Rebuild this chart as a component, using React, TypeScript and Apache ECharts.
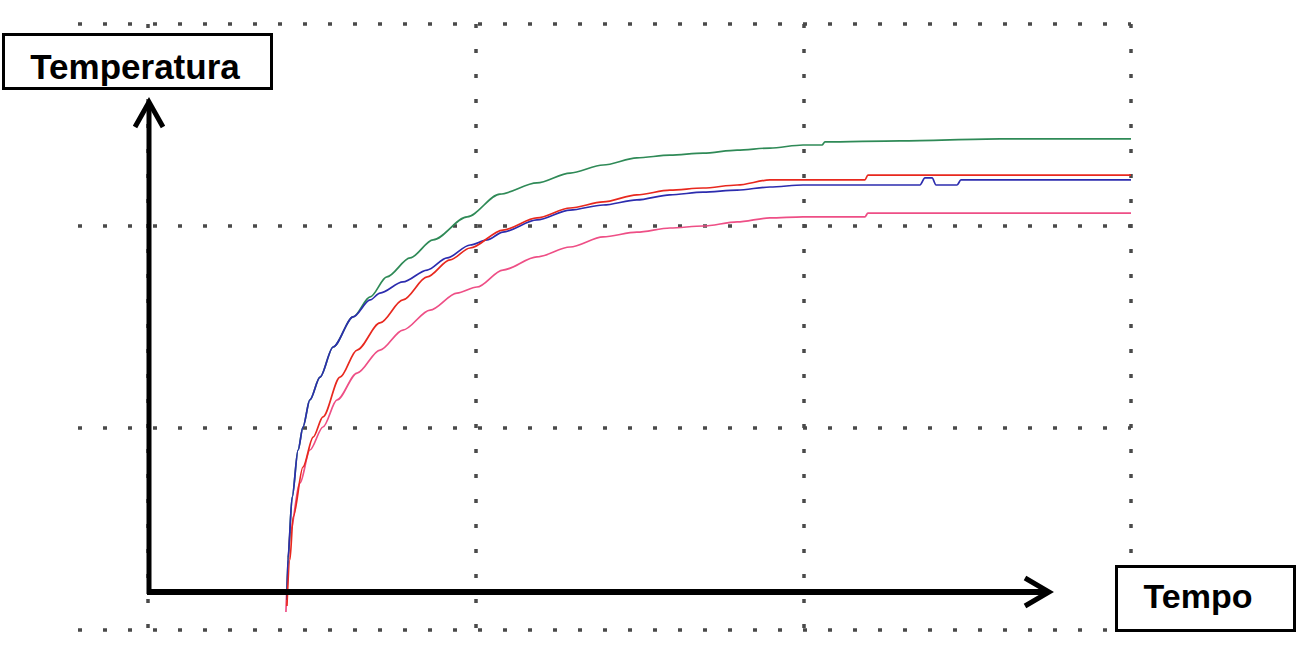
import React, { useEffect, useRef } from "react";
import * as echarts from "echarts";

// Axis ranges (arbitrary units: 3 columns x 3 rows)
const timeTicks = [0, 10, 20, 30];
const tempTicks = [0, 10, 20, 30];

const greenTime = [4.24, 4.27, 4.4, 4.58, 4.73, 4.94, 5.25, 5.65, 6.26, 6.78, 7.29, 8.0, 8.7, 9.74, 10.74, 11.87, 12.88, 13.89, 14.92, 15.93, 16.94, 17.98, 18.98, 19.99, 20.57, 20.66, 22.95, 26.0, 30.0];
const greenTemp = [1.49, 3.47, 6.58, 8.91, 10.05, 11.39, 12.52, 14.01, 15.5, 16.49, 17.48, 18.42, 19.31, 20.45, 21.58, 22.13, 22.62, 23.02, 23.37, 23.51, 23.61, 23.76, 23.86, 24.01, 24.01, 24.16, 24.21, 24.31, 24.31];

const blueTime = [4.24, 4.27, 4.4, 4.58, 4.73, 4.94, 5.25, 5.65, 6.26, 6.78, 7.08, 7.78, 8.52, 9.13, 9.83, 10.35, 10.83, 11.87, 12.88, 13.89, 14.92, 15.93, 16.94, 17.98, 18.98, 19.99, 23.56, 23.71, 23.93, 24.05, 24.69, 24.81, 30.0];
const blueTemp = [1.49, 3.56, 6.58, 8.91, 10.05, 11.39, 12.52, 14.01, 15.5, 16.34, 16.68, 17.23, 17.82, 18.42, 19.06, 19.31, 19.7, 20.3, 20.79, 21.04, 21.29, 21.54, 21.68, 21.78, 21.93, 22.03, 22.03, 22.38, 22.38, 22.03, 22.03, 22.28, 22.28];

const redTime = [4.24, 4.33, 4.43, 4.73, 5.04, 5.34, 5.86, 6.38, 7.08, 7.78, 8.52, 9.22, 9.83, 10.83, 11.87, 12.88, 13.89, 14.92, 15.93, 16.94, 17.98, 18.98, 19.99, 21.88, 21.97, 30.0];
const redTemp = [1.19, 3.47, 5.59, 8.07, 9.55, 10.55, 12.52, 13.86, 15.2, 16.34, 17.48, 18.32, 18.91, 19.8, 20.4, 20.89, 21.19, 21.54, 21.78, 21.88, 22.03, 22.28, 22.28, 22.28, 22.52, 22.52];

const pinkTime = [4.21, 4.27, 4.33, 4.64, 4.94, 5.34, 5.77, 6.38, 7.08, 7.78, 8.61, 9.43, 10.04, 10.83, 11.87, 12.88, 13.89, 14.92, 15.93, 16.94, 17.98, 18.98, 19.99, 21.88, 21.97, 30.0];
const pinkTemp = [0.89, 2.97, 4.8, 7.28, 8.91, 10.05, 11.39, 12.72, 13.86, 14.85, 15.84, 16.68, 16.98, 17.82, 18.47, 18.96, 19.46, 19.7, 19.9, 20.0, 20.2, 20.4, 20.45, 20.45, 20.64, 20.64];

const zip = (t: number[], v: number[]) => t.map((x, i) => [x, v[i]]);

const dotted = { color: "#4a4a4a", width: 3.5, type: [4, 21] as number[] };

export default function App() {
  const ref = useRef<HTMLDivElement>(null);
  useEffect(() => {
    if (!ref.current) return;
    const chart = echarts.init(ref.current, null, { renderer: "svg" });
    const mkLine = (name: string, t: number[], v: number[], color: string) => ({
      name,
      type: "line",
      xAxisIndex: 0,
      yAxisIndex: 0,
      data: zip(t, v),
      symbol: "none",
      silent: true,
      smooth: 0.3,
      smoothMonotone: "x",
      z: 3,
      lineStyle: { color, width: 1.7 },
    });
    chart.setOption({
      animation: false,
      backgroundColor: "#ffffff",
      grid: [
        { left: 148, top: 24, width: 983, height: 606 },
        { left: 78, top: 24, width: 1053, height: 606 },
      ],
      xAxis: [
        {
          type: "value",
          gridIndex: 0,
          min: timeTicks[0],
          max: timeTicks[timeTicks.length - 1],
          interval: timeTicks[1] - timeTicks[0],
          axisLine: { show: false },
          axisTick: { show: false },
          axisLabel: { show: false },
          splitLine: { show: true, lineStyle: dotted },
        },
        {
          type: "value",
          gridIndex: 1,
          min: 0,
          max: 1,
          axisLine: { show: false },
          axisTick: { show: false },
          axisLabel: { show: false },
          splitLine: { show: false },
        },
      ],
      yAxis: [
        {
          type: "value",
          gridIndex: 0,
          min: tempTicks[0],
          max: tempTicks[tempTicks.length - 1],
          interval: tempTicks[1] - tempTicks[0],
          axisLine: { show: false },
          axisTick: { show: false },
          axisLabel: { show: false },
          splitLine: { show: false },
        },
        {
          type: "value",
          gridIndex: 1,
          min: tempTicks[0],
          max: tempTicks[tempTicks.length - 1],
          interval: tempTicks[1] - tempTicks[0],
          axisLine: { show: false },
          axisTick: { show: false },
          axisLabel: { show: false },
          splitLine: { show: true, lineStyle: dotted },
        },
      ],
      series: [
        mkLine("Rosa", pinkTime, pinkTemp, "#ee4f86"),
        mkLine("Verde", greenTime, greenTemp, "#2f8a57"),
        mkLine("Azul", blueTime, blueTemp, "#2c2cae"),
        mkLine("Vermelho", redTime, redTemp, "#e8281e"),
      ],
      graphic: [
        { type: "line", z: 50, shape: { x1: 149, y1: 594, x2: 149, y2: 103 }, style: { stroke: "#000", lineWidth: 5 } },
        { type: "polyline", z: 50, shape: { points: [[135, 127], [149, 102], [163, 127]] }, style: { stroke: "#000", lineWidth: 5, fill: null, lineJoin: "miter" } },
        { type: "line", z: 50, shape: { x1: 147, y1: 592, x2: 1046, y2: 592 }, style: { stroke: "#000", lineWidth: 6 } },
        { type: "polyline", z: 50, shape: { points: [[1025, 578], [1049, 592], [1025, 606]] }, style: { stroke: "#000", lineWidth: 5, fill: null, lineJoin: "miter" } },
        { type: "rect", z: 60, shape: { x: 3.5, y: 34.5, width: 268, height: 54 }, style: { fill: "#fff", stroke: "#000", lineWidth: 3 } },
        { type: "text", z: 61, x: 135, y: 66, style: { text: "Temperatura", font: "bold 35px 'Liberation Sans', Arial, sans-serif", fill: "#000", align: "center", verticalAlign: "middle" } },
        { type: "rect", z: 60, shape: { x: 1116.5, y: 566.5, width: 178, height: 64 }, style: { fill: "#fff", stroke: "#000", lineWidth: 3 } },
        { type: "text", z: 61, x: 1198, y: 596, style: { text: "Tempo", font: "bold 34px 'Liberation Sans', Arial, sans-serif", fill: "#000", align: "center", verticalAlign: "middle" } },
      ],
    });
    return () => chart.dispose();
  }, []);
  return <div ref={ref} style={{ position: "absolute", left: 0, top: 0, width: 1299, height: 662 }} />;
}
